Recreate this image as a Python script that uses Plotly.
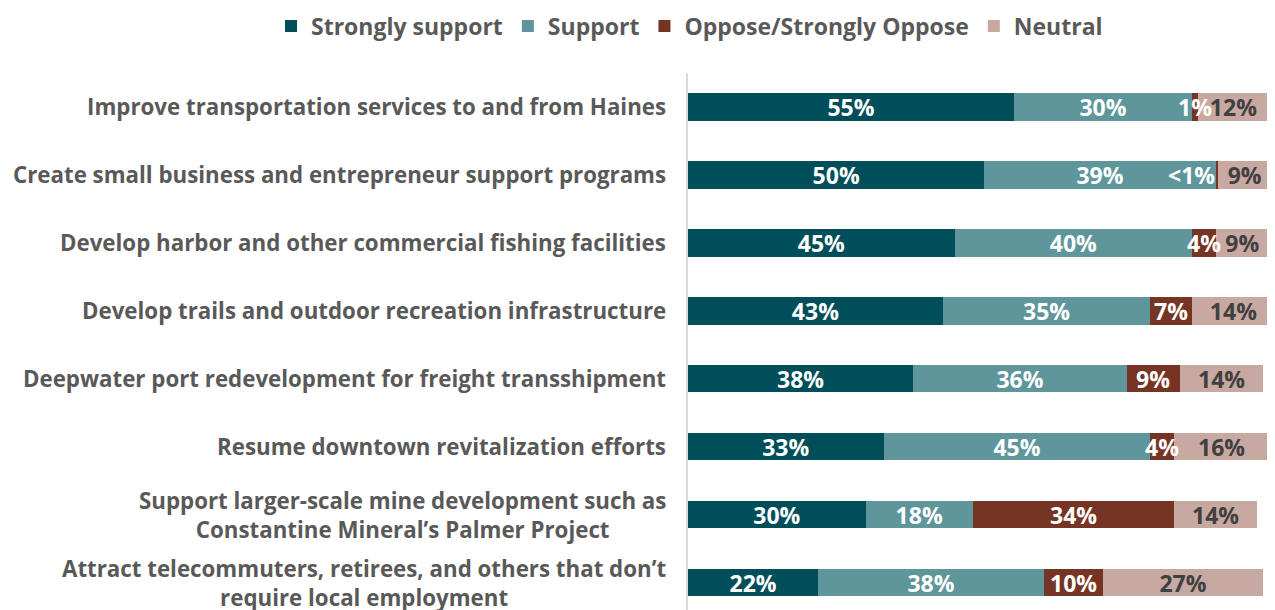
import plotly.graph_objects as go

categories = [
    "Improve transportation services to and from Haines",
    "Create small business and entrepreneur support programs",
    "Develop harbor and other commercial fishing facilities",
    "Develop trails and outdoor recreation infrastructure",
    "Deepwater port redevelopment for freight transshipment",
    "Resume downtown revitalization efforts",
    "Support larger-scale mine development such as<br>Constantine Mineral\u2019s Palmer Project",
    "Attract telecommuters, retirees, and others that don\u2019t<br>require local employment",
]
strongly_support = [55, 50, 45, 43, 38, 33, 30, 22]
support = [30, 39, 40, 35, 36, 45, 18, 38]
oppose = [1, 0.4, 4, 7, 9, 4, 34, 10]
neutral = [12, 9, 9, 14, 14, 16, 14, 27]
oppose_labels = ["1%", "<1%", "4%", "7%", "9%", "4%", "34%", "10%"]

FONT = "Open Sans"
series = [
    ("Strongly support", strongly_support, "#004E59", "white", [f"{v}%" for v in strongly_support]),
    ("Support", support, "#5F969B", "white", [f"{v}%" for v in support]),
    ("Oppose/Strongly Oppose", oppose, "#763424", "white", None),
    ("Neutral", neutral, "#C8A9A2", "#404040", [f"{v}%" for v in neutral]),
]

fig = go.Figure()
for name, vals, color, tcolor, labels in series:
    fig.add_trace(go.Bar(
        y=categories, x=vals, name=name, orientation="h",
        marker=dict(color=color, line=dict(width=0)),
        text=labels, textposition="inside" if labels else "none",
        insidetextanchor="middle",
        textangle=0, constraintext="none", cliponaxis=False,
        textfont=dict(family=FONT, size=23, color=tcolor, weight="bold"),
        hoverinfo="skip",
    ))

# Oppose labels drawn on top of all bars (they overflow their narrow segments)
for cat, s, p, o, lbl in zip(categories, strongly_support, support, oppose, oppose_labels):
    fig.add_annotation(
        x=s + p + o / 2, xref="x", y=cat, yref="y",
        xanchor="right" if lbl.startswith("<") else "center", yanchor="middle",
        text=lbl, showarrow=False,
        font=dict(family=FONT, size=23, color="white", weight="bold"),
    )

for cat in categories:
    fig.add_annotation(
        x=0, xref="paper", y=cat, yref="y", xanchor="right", yanchor="middle",
        xshift=-20, text=cat, showarrow=False, align="center",
        font=dict(family=FONT, size=22.3, color="#595959", weight="bold"),
    )

fig.update_layout(
    width=1267, height=602,
    barmode="stack", bargap=0.6,
    paper_bgcolor="white", plot_bgcolor="white",
    margin=dict(l=680, r=0, t=65, b=0, autoexpand=False),
    showlegend=True,
    legend=dict(
        orientation="h", xref="paper", yref="paper",
        x=-0.7104, xanchor="left", y=1.0875, yanchor="middle",
        font=dict(family=FONT, size=23, color="#595959", weight="bold"),
        traceorder="normal", itemwidth=30, tracegroupgap=0,
    ),
    xaxis=dict(range=[0, 99], visible=False, showgrid=False, zeroline=False),
    yaxis=dict(range=[7.4, -0.5], showticklabels=False, showgrid=False,
               showline=True, linecolor="#D9D9D9", linewidth=2, ticks=""),
)

fig.write_html("out.html")
